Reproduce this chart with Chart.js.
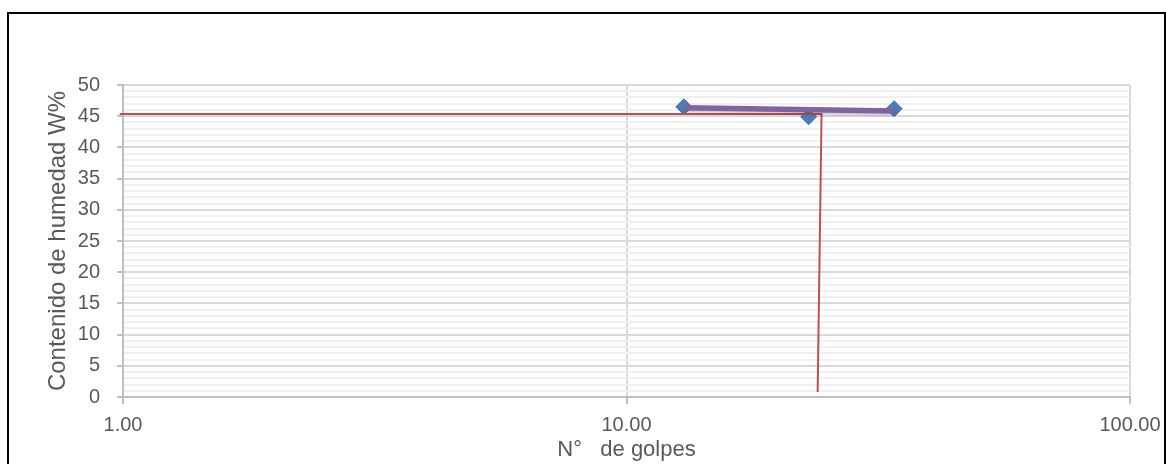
<!DOCTYPE html>
<html>
<head>
<meta charset="utf-8">
<script src="https://cdn.jsdelivr.net/npm/chart.js@4.4.1/dist/chart.umd.min.js"></script>
<style>
  html, body { margin: 0; padding: 0; background: #ffffff; }
  #frame { position: absolute; left: 7px; top: 12px; width: 1155px; height: 470px;
           border-left: 2px solid #000; border-top: 2px solid #000; border-right: 2px solid #000; }
  #wrap { position: absolute; left: 0; top: 0; width: 1166px; height: 464px; }
</style>
</head>
<body>
<div id="frame"></div>
<div id="wrap"><canvas id="c"></canvas></div>
<script>
// Data
const golpes   = [13, 23, 34];
const humedad  = [46.5, 44.9, 46.2];
const trendX   = [13, 34];
const trendY   = [46.36, 45.83];
const refX     = [0.985, 24.4, 23.97];
const refY     = [45.35, 45.35, 0.8];
const xTicks   = [1, 10, 100];
const yMin = 0, yMax = 50, yMajor = 5;

const toPts = (xs, ys) => xs.map((x, i) => ({ x: x, y: ys[i] }));
const TEXT = '#595959';
const FONT = 'Liberation Sans, Arial, sans-serif';

const shadowPlugin = {
  id: 'trendShadow',
  beforeDatasetDraw(chart, args) {
    if (args.meta.dataset && chart.data.datasets[args.index].shadow) {
      const ctx = chart.ctx;
      ctx.save();
      ctx.shadowColor = 'rgba(0,0,0,0.22)';
      ctx.shadowBlur = 3;
      ctx.shadowOffsetX = 1;
      ctx.shadowOffsetY = 2;
    }
  },
  afterDatasetDraw(chart, args) {
    if (args.meta.dataset && chart.data.datasets[args.index].shadow) {
      chart.ctx.restore();
    }
  }
};

new Chart(document.getElementById('c'), {
  type: 'scatter',
  data: {
    datasets: [
      {
        label: 'Tendencia',
        data: toPts(trendX, trendY),
        showLine: true,
        borderColor: '#8064a2',
        borderWidth: 5.5,
        pointRadius: 0,
        borderCapStyle: 'butt',
        shadow: true,
        order: 0
      },
      {
        label: 'Referencia',
        data: toPts(refX, refY),
        showLine: true,
        borderColor: '#c0504d',
        borderWidth: 2,
        pointRadius: 0,
        clip: false,
        order: 1
      },
      {
        label: 'Contenido de humedad',
        data: toPts(golpes, humedad),
        showLine: false,
        pointStyle: 'rectRot',
        pointRadius: 8,
        backgroundColor: '#4a7ebb',
        borderColor: '#3f70ab',
        borderWidth: 1,
        order: 2
      }
    ]
  },
  options: {
    responsive: true,
    maintainAspectRatio: false,
    animation: false,
    events: [],
    layout: { padding: { left: 0, right: 36, top: 85, bottom: 0 } },
    plugins: { legend: { display: false }, tooltip: { enabled: false } },
    scales: {
      x: {
        type: 'logarithmic',
        min: 1,
        max: 100,
        afterBuildTicks: (s) => { s.ticks = xTicks.map(v => ({ value: v, major: true })); },
        afterFit: (s) => { s.height = 67; s.paddingRight = 0; s.paddingLeft = 0; },
        border: { display: true, color: '#bfbfbf', width: 2 },
        grid: { color: '#d9d9d9', lineWidth: 2, tickLength: 7, tickColor: '#bfbfbf', drawTicks: true },
        ticks: {
          autoSkip: false,
          maxRotation: 0,
          padding: 9,
          color: TEXT,
          font: { family: FONT, size: 20 },
          callback: (v) => Number(v).toFixed(2)
        },
        title: {
          display: true,
          text: 'N°   de golpes',
          color: TEXT,
          font: { family: FONT, size: 22 },
          padding: { top: 0, bottom: 1 }
        }
      },
      y: {
        type: 'linear',
        min: yMin,
        max: yMax,
        afterBuildTicks: (s) => {
          const t = [];
          for (let v = yMin; v <= yMax; v++) t.push({ value: v });
          s.ticks = t;
        },
        afterFit: (s) => { s.width = 123; },
        border: { display: true, color: '#bfbfbf', width: 2 },
        grid: {
          color: (c) => (c.tick && c.tick.value % yMajor === 0) ? '#d9d9d9' : '#f0f0f0',
          lineWidth: 2,
          tickLength: 6,
          tickColor: (c) => (c.tick && c.tick.value % yMajor === 0) ? '#bfbfbf' : 'rgba(0,0,0,0)'
        },
        ticks: {
          autoSkip: false,
          padding: 17,
          color: TEXT,
          font: { family: FONT, size: 20 },
          callback: (v) => (v % yMajor === 0) ? String(v) : ''
        },
        title: {
          display: true,
          text: 'Contenido de humedad W%',
          color: TEXT,
          font: { family: FONT, size: 24 },
          padding: { top: 44, bottom: 0 }
        }
      }
    }
  },
  plugins: [shadowPlugin]
});
</script>
</body>
</html>
